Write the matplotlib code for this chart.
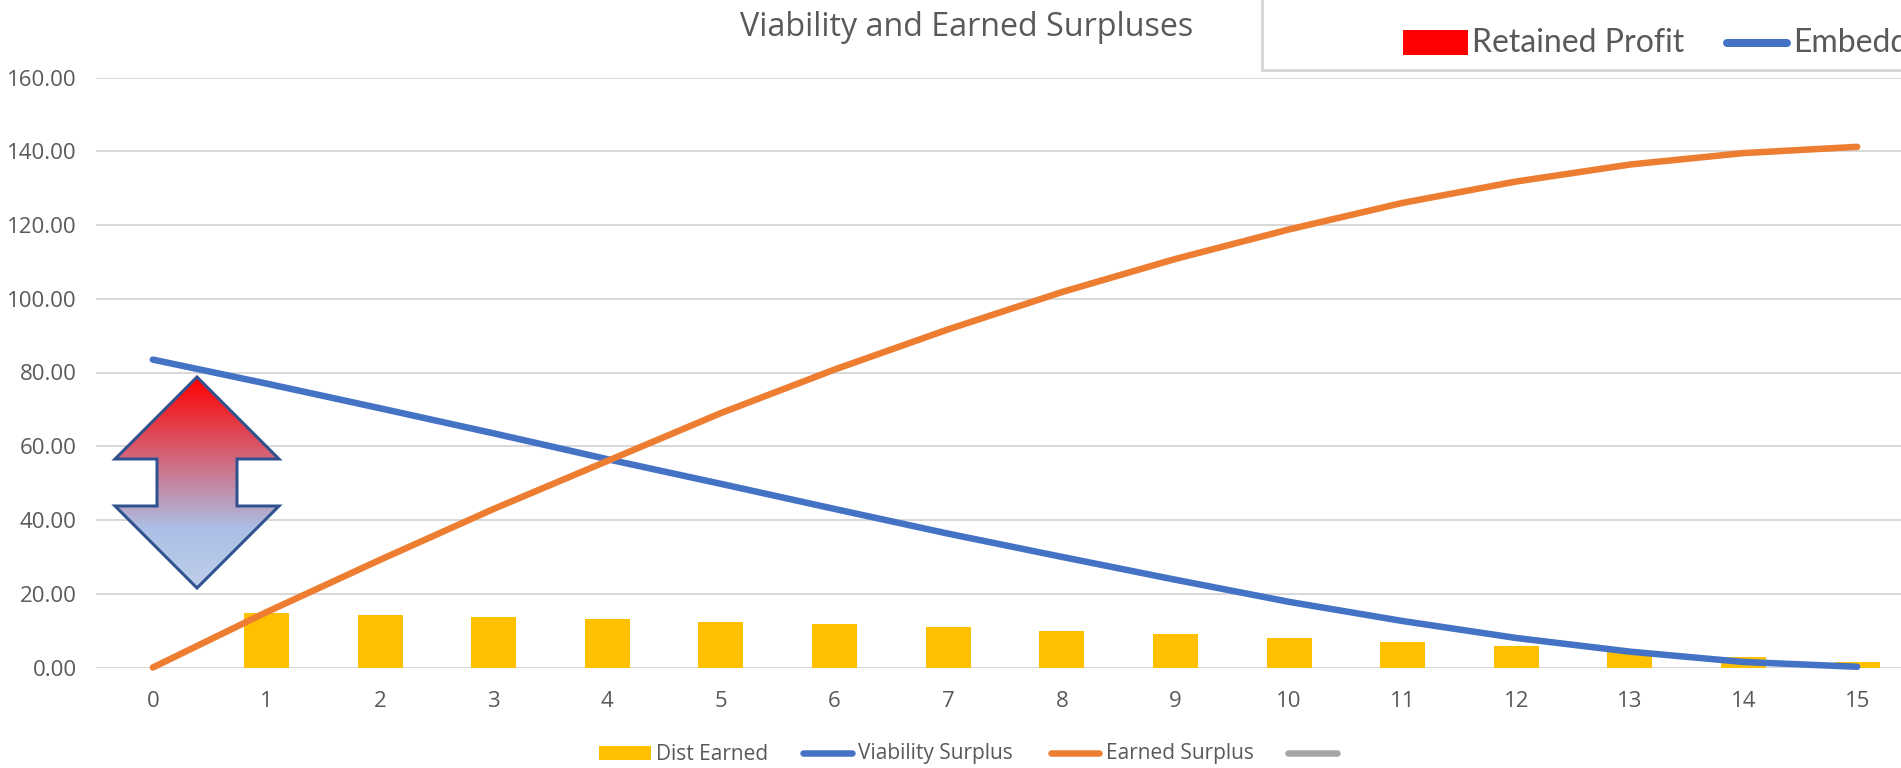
import numpy as np
import matplotlib
matplotlib.use("Agg")
import matplotlib.pyplot as plt
from matplotlib.colors import LinearSegmentedColormap
from matplotlib.patches import Polygon, Rectangle

plt.rcParams["font.family"] = ["Open Sans", "DejaVu Sans"]

# ── data ──────────────────────────────────────────────
years = list(range(16))
dist_earned = [0, 14.8, 14.3, 13.7, 13.1, 12.4, 11.7, 10.9, 10.0, 9.0, 8.0, 6.9, 5.8, 4.2, 2.9, 1.4]
viability_surplus = [83.5, 77.0, 70.3, 63.5, 56.5, 49.8, 43.0, 36.3, 30.0, 23.8, 17.8, 12.6, 8.0, 4.3, 1.5, 0.2]
earned_surplus = [0, 15.0, 29.2, 43.0, 56.0, 69.0, 80.8, 91.7, 101.8, 110.8, 118.8, 126.0, 131.8, 136.4, 139.5, 141.2]
y_ticks = [0, 20, 40, 60, 80, 100, 120, 140, 160]

W, H = 1901, 768
TEXT = "#595959"
GRID = "#d9d9d9"
BLUE = "#4472c4"
ORANGE = "#ed7d31"
GOLD = "#ffc000"
GRAY = "#a5a5a5"
px = 72 / 100  # pt per pixel at dpi 100

fig = plt.figure(figsize=(W / 100, H / 100), dpi=100, facecolor="white")

# plot area runs a little past the right edge of the figure
left, right, top, bottom = 96, 1914, 77.5, 667.5
ax = fig.add_axes([left / W, 1 - bottom / H, (right - left) / W, (bottom - top) / H])
ax.set_xlim(-0.5, 15.5)
ax.set_ylim(0, 160)
for s in ax.spines.values():
    s.set_visible(False)
ax.grid(axis="y", color=GRID, lw=2 * px, zorder=0)
ax.set_axisbelow(True)
ax.tick_params(length=0, labelsize=16, labelcolor=TEXT)
ax.tick_params(axis="x", pad=17)
ax.tick_params(axis="y", pad=14)
ax.set_xticks(years)
ax.set_yticks(y_ticks)
ax.set_yticklabels([f"{v:.2f}" for v in y_ticks])

ax.bar(years, dist_earned, width=0.396, color=GOLD, zorder=2)
ax.plot(years, viability_surplus, color=BLUE, lw=6.5 * px, solid_capstyle="round", zorder=3, clip_on=False)
ax.plot(years, earned_surplus, color=ORANGE, lw=6.5 * px, solid_capstyle="round", zorder=4, clip_on=False)

# overlay in pixel coordinates for title, legends and the double arrow
ov = fig.add_axes([0, 0, 1, 1], zorder=5)
ov.set_xlim(0, W)
ov.set_ylim(H, 0)
ov.axis("off")
ov.patch.set_alpha(0)

ov.text(967, 27, "Viability and Earned Surpluses", fontsize=23.2, color=TEXT, ha="center", va="center")

# bottom legend
ov.add_patch(Rectangle((599, 746), 52, 14, color=GOLD, lw=0))
ov.text(656, 754, "Dist Earned", fontsize=15, color=TEXT, va="center")
ov.plot([803, 852], [753, 753], color=BLUE, lw=6.5 * px, solid_capstyle="round")
ov.text(858, 754, "Viability Surplus", fontsize=15, color=TEXT, va="center")
ov.plot([1051, 1099], [753, 753], color=ORANGE, lw=6.5 * px, solid_capstyle="round")
ov.text(1106, 754, "Earned Surplus", fontsize=15, color=TEXT, va="center")
ov.plot([1288, 1337], [753, 753], color=GRAY, lw=6.5 * px, solid_capstyle="round")

# boxed legend in the top right corner
ov.add_patch(Rectangle((1262, -10), 700, 80, facecolor="white", edgecolor=GRID, lw=3 * px))
ov.add_patch(Rectangle((1403, 30), 65, 25, color="#ff0000", lw=0))
ov.text(1472, 43, "Retained Profit", fontsize=23, family=["Lato", "Open Sans"], color=TEXT, va="center")
ov.plot([1727, 1787], [43, 43], color=BLUE, lw=8 * px, solid_capstyle="round")
ov.text(1793, 43, "Embedded", fontsize=23, family=["Lato", "Open Sans"], color=TEXT, va="center", clip_on=True)

# double arrow with a vertical red to pale blue gradient
arrow = [(197, 377), (279, 459), (237, 459), (237, 506), (279, 506), (197, 588),
         (115, 506), (157, 506), (157, 459), (115, 459)]
cmap = LinearSegmentedColormap.from_list(
    "arrow", [(0, "#ff0000"), (0.72, "#abbfe6"), (1, "#bfcfea")])
grad = np.linspace(0, 1, 256).reshape(-1, 1)
im = ov.imshow(grad, cmap=cmap, extent=(115, 279, 588, 377), aspect="auto", zorder=1)
shape = Polygon(arrow, closed=True, facecolor="none", edgecolor="#2f528f", lw=3 * px, zorder=2)
ov.add_patch(shape)
im.set_clip_path(shape)
ov.set_xlim(0, W)
ov.set_ylim(H, 0)

fig.savefig("out.png", dpi=100)
